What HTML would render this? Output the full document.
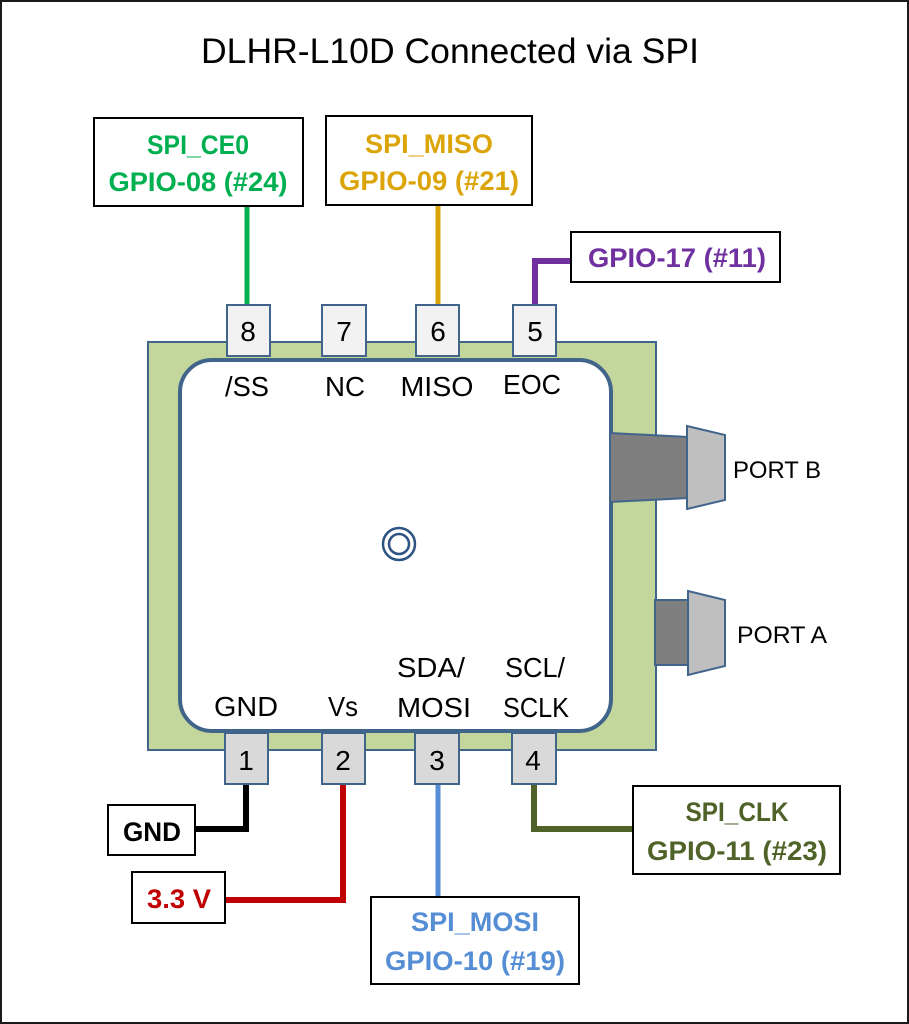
<!DOCTYPE html>
<html><head><meta charset="utf-8"><style>
html,body{margin:0;padding:0;background:#fff}
svg{display:block}
text{font-family:"Liberation Sans",sans-serif}
.b{font-weight:bold;font-size:27px}
.n{font-size:28px;fill:#000}
</style></head><body>
<svg width="909" height="1024" viewBox="0 0 909 1024" xmlns="http://www.w3.org/2000/svg">
<rect x="1" y="1" width="907" height="1022" fill="#fff" stroke="#1a1a1a" stroke-width="2"/>
<text x="450" y="63" font-size="35" text-anchor="middle" textLength="498" lengthAdjust="spacingAndGlyphs">DLHR-L10D Connected via SPI</text>

<rect x="148" y="342" width="508" height="408" fill="#c3d69b" stroke="#41658a" stroke-width="2"/>
<rect x="655" y="600" width="33" height="65" fill="#7f7f7f" stroke="#41658a" stroke-width="2"/>
<polygon points="688,591 725,600 725,666 688,675" fill="#bfbfbf" stroke="#41658a" stroke-width="2"/>
<rect x="180" y="360" width="431" height="371" rx="32" fill="#fff" stroke="#41658a" stroke-width="4"/>
<polygon points="610,433 688,437 688,498 610,502" fill="#7f7f7f" stroke="#41658a" stroke-width="2"/>
<polygon points="687,426 725,435 725,500 687,509" fill="#bfbfbf" stroke="#41658a" stroke-width="2"/>
<text x="733" y="478" font-size="24" textLength="88" lengthAdjust="spacingAndGlyphs">PORT B</text>
<text x="737" y="643" font-size="24" textLength="90" lengthAdjust="spacingAndGlyphs">PORT A</text>

<circle cx="399" cy="544" r="16" fill="none" stroke="#2e5282" stroke-width="2.5"/>
<circle cx="399" cy="544" r="10" fill="none" stroke="#2e5282" stroke-width="2.5"/>

<line x1="247" y1="206" x2="247" y2="306" stroke="#00b050" stroke-width="5"/>
<line x1="438" y1="205" x2="438" y2="306" stroke="#dba50a" stroke-width="5"/>
<polyline points="535,306 535,261 572,261" fill="none" stroke="#7030a0" stroke-width="6"/>
<polyline points="246,784 246,829 195,829" fill="none" stroke="#000" stroke-width="6"/>
<polyline points="343,784 343,900 225,900" fill="none" stroke="#c00000" stroke-width="6"/>
<line x1="438" y1="784" x2="438" y2="897" stroke="#558ed5" stroke-width="5"/>
<polyline points="534,784 534,829 634,829" fill="none" stroke="#4f6228" stroke-width="6"/>

<g stroke="#41658a" stroke-width="2" fill="#f2f2f2">
<rect x="227" y="305" width="43" height="51"/>
<rect x="322" y="305" width="44" height="51"/>
<rect x="416" y="305" width="43" height="51"/>
<rect x="513" y="305" width="43" height="51"/>
</g>
<g class="n" text-anchor="middle">
<text x="248" y="341">8</text><text x="344" y="341">7</text><text x="438" y="341">6</text><text x="535" y="341">5</text>
<text x="247" y="396" textLength="44" lengthAdjust="spacingAndGlyphs">/SS</text>
<text x="345" y="396" textLength="40" lengthAdjust="spacingAndGlyphs">NC</text>
<text x="437" y="396" textLength="73" lengthAdjust="spacingAndGlyphs">MISO</text>
<text x="532" y="394" textLength="58" lengthAdjust="spacingAndGlyphs">EOC</text>
</g>
<g stroke="#41658a" stroke-width="2" fill="#d9d9d9">
<rect x="225" y="733" width="43" height="51"/>
<rect x="322" y="733" width="43" height="51"/>
<rect x="415" y="733" width="44" height="51"/>
<rect x="512" y="733" width="44" height="51"/>
</g>
<g class="n" text-anchor="middle">
<text x="246" y="770">1</text><text x="343" y="770">2</text><text x="437" y="770">3</text><text x="533" y="770">4</text>
<text x="246" y="716" textLength="64" lengthAdjust="spacingAndGlyphs">GND</text>
<text x="343" y="716" textLength="30" lengthAdjust="spacingAndGlyphs">Vs</text>
<text x="431" y="677" textLength="68" lengthAdjust="spacingAndGlyphs">SDA/</text>
<text x="434" y="717" textLength="74" lengthAdjust="spacingAndGlyphs">MOSI</text>
<text x="535" y="677" textLength="60" lengthAdjust="spacingAndGlyphs">SCL/</text>
<text x="536" y="717" textLength="66" lengthAdjust="spacingAndGlyphs">SCLK</text>
</g>

<g fill="#fff" stroke="#000" stroke-width="2">
<rect x="94" y="118" width="209" height="88"/>
<rect x="326" y="116" width="206" height="89"/>
<rect x="571" y="232" width="209" height="50"/>
<rect x="108" y="805" width="87" height="50"/>
<rect x="132" y="872" width="93" height="51"/>
<rect x="371" y="897" width="208" height="87"/>
<rect x="633" y="786" width="207" height="88"/>
</g>
<g class="b" text-anchor="middle">
<text x="198" y="154" fill="#00b050" textLength="102" lengthAdjust="spacingAndGlyphs">SPI_CE0</text>
<text x="198" y="191" fill="#00b050" textLength="179" lengthAdjust="spacingAndGlyphs">GPIO-08 (#24)</text>
<text x="429" y="153" fill="#dba50a" textLength="128" lengthAdjust="spacingAndGlyphs">SPI_MISO</text>
<text x="429" y="190" fill="#dba50a" textLength="180" lengthAdjust="spacingAndGlyphs">GPIO-09 (#21)</text>
<text x="677" y="267" fill="#7030a0" textLength="178" lengthAdjust="spacingAndGlyphs">GPIO-17 (#11)</text>
<text x="152" y="841" fill="#000" textLength="58" lengthAdjust="spacingAndGlyphs">GND</text>
<text x="179" y="908" fill="#c00000" textLength="64" lengthAdjust="spacingAndGlyphs">3.3 V</text>
<text x="475" y="931" fill="#558ed5" textLength="128" lengthAdjust="spacingAndGlyphs">SPI_MOSI</text>
<text x="475" y="970" fill="#558ed5" textLength="180" lengthAdjust="spacingAndGlyphs">GPIO-10 (#19)</text>
<text x="737" y="821" fill="#4f6228" textLength="103" lengthAdjust="spacingAndGlyphs">SPI_CLK</text>
<text x="737" y="860" fill="#4f6228" textLength="180" lengthAdjust="spacingAndGlyphs">GPIO-11 (#23)</text>
</g>
</svg>
</body></html>
